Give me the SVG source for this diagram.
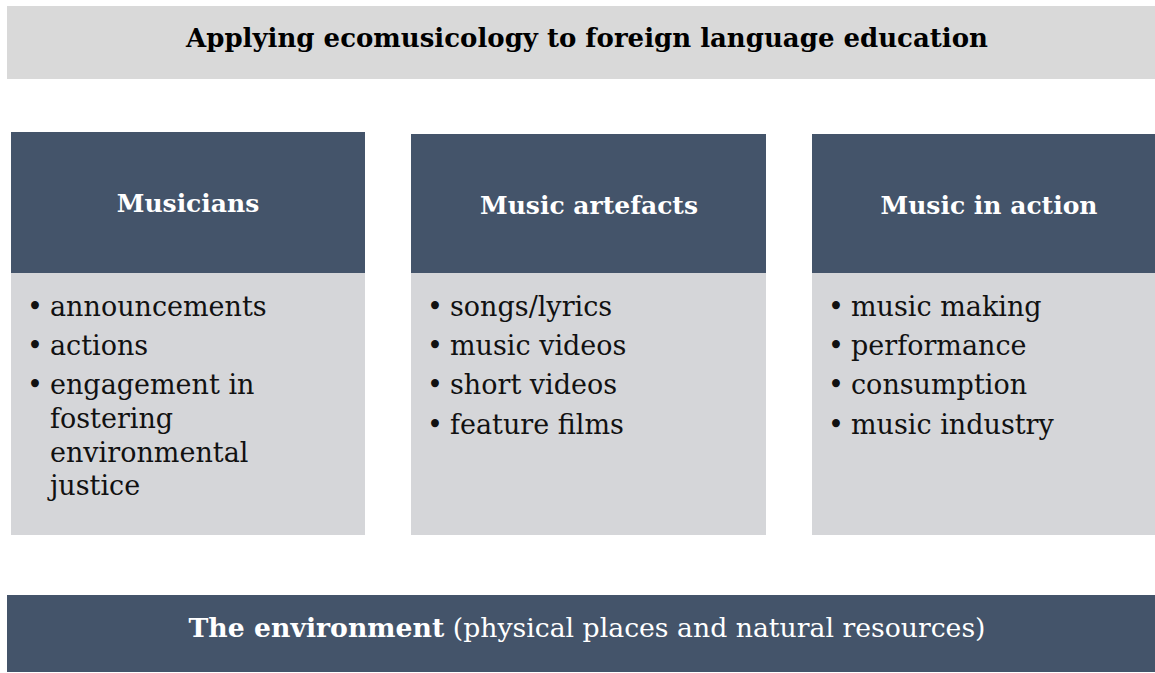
<svg xmlns="http://www.w3.org/2000/svg" width="1155" height="673" viewBox="0 0 1155 673">
<style>
.banner{fill:#d9d9d9}
.head{fill:#44546a}
.body{fill:#d5d6d9}
text{font-family:"DejaVu Serif","Liberation Serif",serif}
.title{font-size:26px;font-weight:bold;fill:#000}
.ht{font-size:25px;font-weight:bold;fill:#fff}
.item{font-size:27px;fill:#111}
.env{font-size:26.7px;fill:#fff}
</style>
<rect width="1155" height="673" fill="#fff"/>
<g id="title">
<rect class="banner" x="7" y="6" width="1148" height="73"/>
<text class="title" x="587" y="47" text-anchor="middle">Applying ecomusicology to foreign language education</text>
</g>
<g id="musicians">
<rect class="head" x="11" y="132" width="354" height="141"/>
<rect class="body" x="11" y="273" width="354" height="262"/>
<text class="ht" x="188" y="212" text-anchor="middle">Musicians</text>
<g class="item">
<text x="27" y="316">•</text><text x="50" y="316">announcements</text>
<text x="27" y="355">•</text><text x="50" y="355">actions</text>
<text x="27" y="394">•</text><text x="50" y="394">engagement in</text>
<text x="50" y="428">fostering</text>
<text x="50" y="462">environmental</text>
<text x="50" y="495">justice</text>
</g>
</g>
<g id="artefacts">
<rect class="head" x="411" y="134" width="355" height="139"/>
<rect class="body" x="411" y="273" width="355" height="262"/>
<text class="ht" x="589" y="214" text-anchor="middle">Music artefacts</text>
<g class="item">
<text x="427" y="316">•</text><text x="450" y="316">songs/lyrics</text>
<text x="427" y="355">•</text><text x="450" y="355">music videos</text>
<text x="427" y="394">•</text><text x="450" y="394">short videos</text>
<text x="427" y="434">•</text><text x="450" y="434">feature films</text>
</g>
</g>
<g id="action">
<rect class="head" x="812" y="134" width="343" height="139"/>
<rect class="body" x="812" y="273" width="343" height="262"/>
<text class="ht" x="989" y="214" text-anchor="middle">Music in action</text>
<g class="item">
<text x="828" y="316">•</text><text x="851" y="316">music making</text>
<text x="828" y="355">•</text><text x="851" y="355">performance</text>
<text x="828" y="394">•</text><text x="851" y="394">consumption</text>
<text x="828" y="434">•</text><text x="851" y="434">music industry</text>
</g>
</g>
<g id="environment">
<rect class="head" x="7" y="595" width="1148" height="77"/>
<text class="env" x="587" y="637" text-anchor="middle"><tspan font-weight="bold">The environment</tspan> (physical places and natural resources)</text>
</g>
<g id="connectors"></g>
</svg>
